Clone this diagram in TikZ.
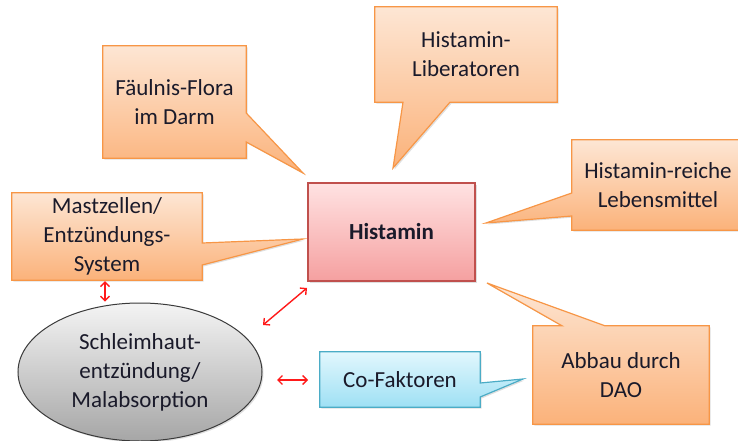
\documentclass[tikz,border=0pt]{standalone}
\usepackage{fontspec}
\setmainfont{Carlito}
\usetikzlibrary{arrows.meta,backgrounds,shadows,shapes.geometric}
\definecolor{orTop}{HTML}{FDE6D4}
\definecolor{orBot}{HTML}{FBB27A}
\definecolor{orLine}{HTML}{F79646}
\definecolor{rdTop}{HTML}{FFE2E2}
\definecolor{rdBot}{HTML}{F5A0A0}
\definecolor{rdLine}{HTML}{C0504D}
\definecolor{cyTop}{HTML}{E2F7FD}
\definecolor{cyBot}{HTML}{9EE0F4}
\definecolor{cyLine}{HTML}{4BACC6}
\definecolor{gyTop}{HTML}{F4F4F4}
\definecolor{gyBot}{HTML}{A6A6A6}
\definecolor{gyLine}{HTML}{3A3A3A}
\definecolor{txtC}{HTML}{1A1A2A}
\definecolor{arrC}{HTML}{FF1A1A}
\begin{document}
\begin{tikzpicture}[x=1pt,y=-1pt,
  txt/.style={align=center,font=\fontsize{23}{29}\selectfont,text=txtC,inner sep=0pt},
  shd/.style={drop shadow={opacity=0.25,shadow xshift=1.5pt,shadow yshift=-1.5pt}},
  orshape/.style={shd,top color=orTop,bottom color=orBot,draw=orLine,line width=1.2pt,line join=miter},
  rdshape/.style={shd,top color=rdTop,bottom color=rdBot,draw=rdLine,line width=1.2pt},
  cyshape/.style={shd,top color=cyTop,bottom color=cyBot,draw=cyLine,line width=1.2pt},
  gyshape/.style={shd,top color=gyTop,bottom color=gyBot,draw=gyLine,line width=1pt},
  dbl/.style={draw=arrC,line width=1.4pt,{Straight Barb[length=4.5pt,width=9pt]}-{Straight Barb[length=4.5pt,width=9pt]}}
]
\useasboundingbox (0,0) rectangle (738,441);

% callout texts
\node[txt,minimum width=143pt,minimum height=112pt] (flora) at (174.5,102) {Fäulnis-Flora\\im Darm};
\node[txt,minimum width=182pt,minimum height=95pt] (lib) at (466,54.5) {Histamin-\\Liberatoren};
\node[txt,minimum width=172pt,minimum height=90pt] (reich) at (658,185) {Histamin-reiche\\Lebensmittel};
\node[txt,minimum width=190pt,minimum height=87pt] (mast) at (107,236.5) {Mastzellen/\\Entzündungs-\\System};
\node[txt,minimum width=160pt,minimum height=55pt] (cof) at (400,379.5) {Co-Faktoren};
\node[txt,minimum width=176pt,minimum height=98pt] (dao) at (621,375) {Abbau durch\\DAO};

% main nodes
\node[txt,rdshape,minimum width=167pt,minimum height=98pt,font=\fontsize{23}{29}\selectfont\bfseries] (hist) at (391.5,232) {Histamin};
\node[txt,gyshape,ellipse,minimum width=244pt,minimum height=138pt] (ell) at (140,372) {Schleimhaut-\\entzündung/\\Malabsorption};

% pointer tips
\coordinate (floraTip) at (303,173);
\coordinate (libTip) at (393,168);
\coordinate (reichTip) at (486,223);
\coordinate (mastTip) at (303,239);
\coordinate (cofTip) at (523,379);
\coordinate (daoTip) at (487,283);

\begin{pgfonlayer}{background}
\path[orshape] (flora.north west) -- (flora.north east) -- (flora.east |- 0,113) -- (floraTip) -- (flora.east |- 0,142) -- (flora.south east) -- (flora.south west) -- cycle;
\path[orshape] (lib.north west) -- (lib.north east) -- (lib.south east) -- (lib.south -| 450,0) -- (libTip) -- (lib.south -| 403,0) -- (lib.south west) -- cycle;
\path[orshape] (reich.north west) -- (reich.north east) -- (reich.south east) -- (reich.south west) -- (reich.west |- 0,216) -- (reichTip) -- (reich.west |- 0,193) -- cycle;
\path[orshape] (mast.north west) -- (mast.north east) -- (mast.east |- 0,243) -- (mastTip) -- (mast.east |- 0,265) -- (mast.south east) -- (mast.south west) -- cycle;
\path[cyshape] (cof.north west) -- (cof.north east) -- (cof.east |- 0,383) -- (cofTip) -- (cof.east |- 0,397) -- (cof.south east) -- (cof.south west) -- cycle;
\path[orshape] (dao.north west) -- (dao.north -| 562,0) -- (daoTip) -- (dao.north -| 605,0) -- (dao.north east) -- (dao.south east) -- (dao.south west) -- cycle;
\end{pgfonlayer}

% arrows
\coordinate (d1) at (263,325);
\coordinate (d2) at (307,288);
\coordinate (h1) at (277,380);
\coordinate (h2) at (308,380);
\draw[dbl] ([yshift=-1pt]mast.south -| 105,0) -- ([yshift=1pt]ell.north -| 105,0);
\draw[dbl] (d1) -- (d2);
\draw[dbl] (h1) -- (h2);
\end{tikzpicture}
\end{document}
